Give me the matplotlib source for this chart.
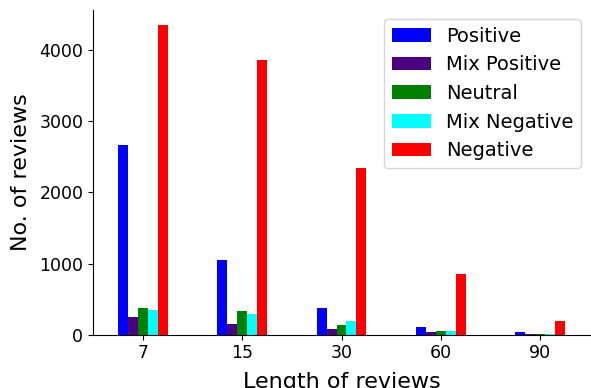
import numpy as np
import matplotlib
matplotlib.use('Agg')
import matplotlib.pyplot as plt

# 评论长度分组
lengths = ['7', '15', '30', '60', '90']

# 各情感类别的评论数
positive = [2667, 1053, 379, 112, 42]
mix_positive = [253, 154, 84, 42, 10]
neutral = [379, 337, 140, 56, 6]
mix_negative = [351, 295, 196, 50, 6]
negative = [4345, 3860, 2344, 856, 196]

series = [
    ('Positive', positive, 'blue'),
    ('Mix Positive', mix_positive, 'indigo'),
    ('Neutral', neutral, 'green'),
    ('Mix Negative', mix_negative, 'cyan'),
    ('Negative', negative, 'red'),
]

fig = plt.figure(figsize=(5.91, 3.88), dpi=100)
ax = fig.add_axes([93 / 591, 1 - 334.7 / 388, 497 / 591, (334.7 - 10) / 388])

x = np.arange(len(lengths))
w = 0.1
for i, (name, vals, c) in enumerate(series):
    ax.bar(x + (i - 2) * w, vals, width=w, color=c, label=name)

ax.set_xlim(-0.5, 4.5)
ax.set_xticks(x)
ax.set_xticklabels(lengths)
ax.tick_params(labelsize=12.5)
ax.set_xlabel('Length of reviews', fontsize=16, labelpad=7)
ax.set_ylabel('No. of reviews', fontsize=16, labelpad=6)
ax.spines['top'].set_visible(False)
ax.spines['right'].set_visible(False)
ax.legend(loc='upper right', fontsize=14, borderaxespad=0.45)

fig.savefig('out.png', dpi=100)
